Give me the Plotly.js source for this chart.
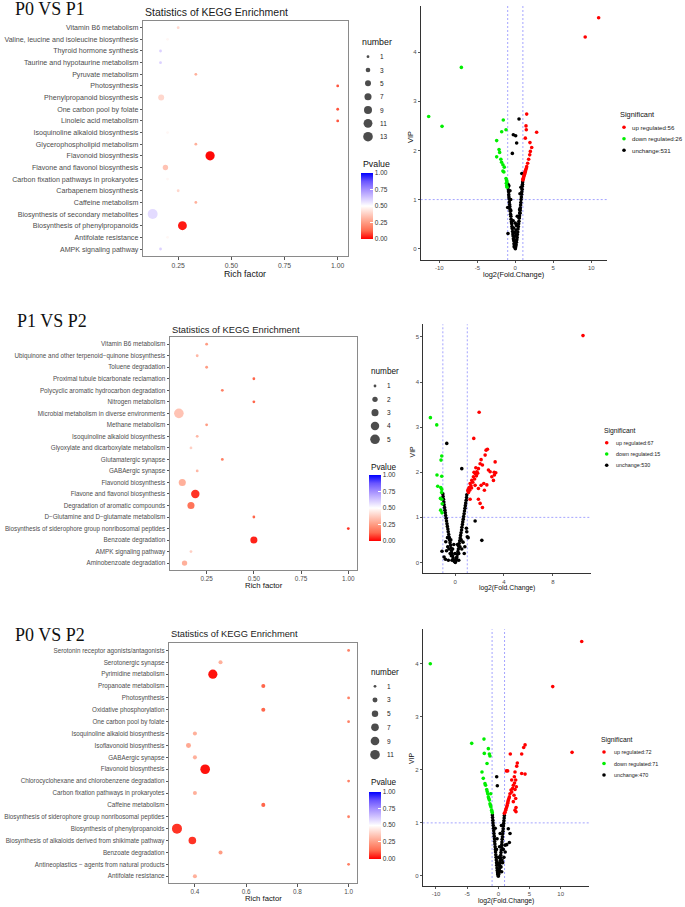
<!DOCTYPE html>
<html><head><meta charset="utf-8">
<script src="https://cdn.plot.ly/plotly-3.0.1.min.js"></script>
<style>html,body{margin:0;padding:0;background:#fff}#chart{width:685px;height:907px}</style>
</head><body><div id="chart"></div>
<script>
// ================= DATA =================
// --- P0 VS P1 KEGG enrichment ---
const p01Pathways = ["Vitamin B6 metabolism","Valine, leucine and isoleucine biosynthesis","Thyroid hormone synthesis","Taurine and hypotaurine metabolism","Pyruvate metabolism","Photosynthesis","Phenylpropanoid biosynthesis","One carbon pool by folate","Linoleic acid metabolism","Isoquinoline alkaloid biosynthesis","Glycerophospholipid metabolism","Flavonoid biosynthesis","Flavone and flavonol biosynthesis","Carbon fixation pathways in prokaryotes","Carbapenem biosynthesis","Caffeine metabolism","Biosynthesis of secondary metabolites","Biosynthesis of phenylpropanoids","Antifolate resistance","AMPK signaling pathway"];
const p01Rich = [0.25,0.2,0.167,0.167,0.333,1,0.17,1,1,0.2,0.333,0.4,0.19,0.2,0.25,0.333,0.13,0.27,0.2,0.167];
const p01Number = [1,1,1,1,1,1,5,1,1,1,1,12,4,1,1,1,14,11,1,1];
const p01Pvalue = [0.40,0.48,0.60,0.60,0.30,0.10,0.40,0.10,0.10,0.48,0.30,0.01,0.35,0.48,0.40,0.30,0.58,0.03,0.48,0.60];
const p01SizeBreaks = [1,3,5,7,9,11,13];

// --- P1 VS P2 KEGG enrichment ---
const p12Pathways = ["Vitamin B6 metabolism","Ubiquinone and other terpenoid\u2212quinone biosynthesis","Toluene degradation","Proximal tubule bicarbonate reclamation","Polycyclic aromatic hydrocarbon degradation","Nitrogen metabolism","Microbial metabolism in diverse environments","Methane metabolism","Isoquinoline alkaloid biosynthesis","Glyoxylate and dicarboxylate metabolism","Glutamatergic synapse","GABAergic synapse","Flavonoid biosynthesis","Flavone and flavonol biosynthesis","Degradation of aromatic compounds","D\u2212Glutamine and D\u2212glutamate metabolism","Biosynthesis of siderophore group nonribosomal peptides","Benzoate degradation","AMPK signaling pathway","Aminobenzoate degradation"];
const p12Rich = [0.25,0.2,0.25,0.5,0.333,0.5,0.103,0.25,0.2,0.167,0.333,0.2,0.121,0.19,0.167,0.5,1,0.5,0.167,0.133];
const p12Number = [1,1,1,1,1,1,5,1,1,1,1,1,3,4,3,1,1,3,1,2];
const p12Pvalue = [0.25,0.32,0.25,0.12,0.18,0.12,0.35,0.25,0.32,0.38,0.18,0.32,0.30,0.06,0.15,0.12,0.06,0.04,0.38,0.30];
const p12SizeBreaks = [1,2,3,4,5];

// --- P0 VS P2 KEGG enrichment ---
const p02Pathways = ["Serotonin receptor agonists/antagonists","Serotonergic synapse","Pyrimidine metabolism","Propanoate metabolism","Photosynthesis","Oxidative phosphorylation","One carbon pool by folate","Isoquinoline alkaloid biosynthesis","Isoflavonoid biosynthesis","GABAergic synapse","Flavonoid biosynthesis","Chlorocyclohexane and chlorobenzene degradation","Carbon fixation pathways in prokaryotes","Caffeine metabolism","Biosynthesis of siderophore group nonribosomal peptides","Biosynthesis of phenylpropanoids","Biosynthesis of alkaloids derived from shikimate pathway","Benzoate degradation","Antineoplastics \u2212 agents from natural products","Antifolate resistance"];
const p02Rich = [1,0.5,0.47,0.667,1,0.667,1,0.4,0.375,0.4,0.44,1,0.4,0.667,1,0.33,0.39,0.5,1,0.4];
const p02Number = [1,2,10,2,1,2,1,2,3,2,11,1,2,2,1,12,7,2,1,2];
const p02Pvalue = [0.18,0.30,0.02,0.12,0.18,0.12,0.18,0.30,0.28,0.30,0.02,0.18,0.30,0.12,0.18,0.06,0.06,0.25,0.18,0.30];
const p02SizeBreaks = [1,3,5,7,9,11];

const pTickVals = [0,0.25,0.5,0.75,1];
const pTickText = ["0.00","0.25","0.50","0.75","1.00"];
const richTicks01 = [0.25,0.5,0.75,1];
const richTickText01 = ["0.25","0.50","0.75","1.00"];
const richTicks02 = [0.4,0.6,0.8,1.0];
const richTickText02 = ["0.4","0.6","0.8","1.0"];

// --- Volcano data [log2FC, VIP] ---
const p01Up = [[10.97,4.70],[9.2,4.31],[1.5,2.74],[1.41,2.50],[1.45,2.42],[2.81,2.37],[1.32,2.25],[1.93,2.16],[2.16,2.06],[1.98,1.98],[1.9,1.91],[1.76,1.82],[1.63,1.74],[1.5,1.67],[1.44,1.63],[1.37,1.60],[1.31,1.57],[1.24,1.53],[1.18,1.50],[1.1,1.46],[1.05,1.43],[1.0,1.40],[1.27,1.55],[1.21,1.51],[1.14,1.48],[1.34,1.58],[1.07,1.44],[1.02,1.41]];
const p01Down = [[-7.1,3.69],[-11.4,2.69],[-9.64,2.49],[-1.58,2.62],[-1.22,2.42],[-1.79,2.38],[-2.45,2.20],[-2.14,2.02],[-2.06,1.96],[-2.45,1.87],[-1.9,1.82],[-1.8,1.76],[-1.63,1.71],[-1.45,1.66],[-1.63,1.58],[-1.5,1.56],[-1.22,1.43],[-1.14,1.39],[-1.18,1.33],[-1.14,1.28],[-1.1,1.36],[-1.08,1.25]];
const p01Unchange = [[0.49,2.64],[-0.26,2.32],[0.05,2.30],[0.18,2.15],[-0.39,1.94],[0.86,1.53],[-1.0,0.84],[-0.96,0.31],[0.53,0.65],[0.62,0.72],
[-0.96,1.31],[-0.93,1.26],[-0.91,1.2],[-0.88,1.16],[-0.86,1.1],[-0.84,1.05],[-0.8,1.01],[-0.79,0.95],[-0.75,0.9],[-0.72,0.86],[-0.69,0.8],[-0.65,0.76],[-0.62,0.7],[-0.58,0.66],[-0.55,0.6],[-0.51,0.55],[-0.47,0.51],[-0.44,0.45],[-0.4,0.41],[-0.36,0.35],[-0.32,0.3],[-0.29,0.26],[-0.25,0.2],[-0.2,0.16],[-0.17,0.1],[-0.12,0.06],[-0.07,0.03],
[0.97,1.36],[0.95,1.31],[0.92,1.27],[0.9,1.21],[0.86,1.16],[0.83,1.11],[0.8,1.05],[0.76,1.0],[0.73,0.94],[0.7,0.89],[0.66,0.83],[0.63,0.78],[0.59,0.73],[0.55,0.67],[0.51,0.62],[0.48,0.56],[0.44,0.51],[0.4,0.45],[0.36,0.4],[0.32,0.34],[0.28,0.29],[0.24,0.23],[0.2,0.18],[0.15,0.13],[0.11,0.08],[0.06,0.04],[0.01,0.0],
[-0.2,0.42],[0.16,0.47],[-0.05,0.33],[0.1,0.28],[-0.1,0.18],[0.05,0.13],[-0.28,0.57],[0.26,0.66],[0.0,0.52],[-0.14,0.04],[-0.02,0.08],[0.08,0.38],[-0.12,0.25],[-0.6,0.78],[0.58,0.8],[-0.6,1.0],[0.62,1.12],[-0.7,1.18],[0.75,1.25],[-0.85,1.28]];
const p01SigLabels = ["up regulated:56","down regulated:26","unchange:531"];

const p12Up = [[10.47,5.03],[1.97,3.33],[1.53,2.75],[2.65,2.51],[2.54,2.49],[2.46,2.38],[2.13,2.28],[3.28,2.23],[2.05,2.19],[2.24,2.16],[1.91,2.08],[1.78,2.01],[1.64,1.97],[2.73,2.05],[2.87,2.01],[3.33,1.99],[3.22,1.94],[3.01,1.90],[3.14,1.82],[1.5,1.9],[1.37,1.82],[1.23,1.75],[1.15,1.66],[1.04,1.59],[1.64,1.71],[1.91,1.64],[2.13,1.71],[1.91,1.40],[2.05,1.31],[2.24,1.22],[1.23,1.40],[1.1,1.55],[1.3,1.7],[1.45,1.78],[1.6,1.85],[1.75,1.92],[1.85,1.98],[1.2,1.6],[1.35,1.65],[1.08,1.62],[2.6,1.72],[2.4,1.6],[1.7,2.1],[1.55,2.0],[2.35,1.75],[3.2,2.0]];
const p12Down = [[-2.02,3.21],[-1.5,3.05],[-1.09,2.36],[-1.15,2.27],[-1.48,1.94],[-1.09,1.91],[-1.42,1.69],[-1.17,1.66],[-1.09,1.62],[-1.2,1.42],[-1.09,1.40],[-1.18,1.16],[-1.07,1.10],[-1.1,1.55],[-1.05,1.3]];
const p12Unchange = [[-0.68,2.64],[0.55,2.08],[1.64,0.92],[2.19,0.49],[0.96,0.68],[1.0,0.57],[0.93,0.76],[-0.76,0.46],[-0.7,0.26],[-0.79,0.07],[-0.55,0.05],[1.07,0.55],[-1.07,0.25],
[-1.0,1.52],[-0.98,1.46],[-0.95,1.4],[-0.92,1.34],[-0.9,1.28],[-0.86,1.22],[-0.83,1.16],[-0.8,1.1],[-0.77,1.04],[-0.73,0.98],[-0.7,0.92],[-0.66,0.86],[-0.63,0.8],[-0.59,0.74],[-0.56,0.68],[-0.52,0.62],[-0.48,0.56],[-0.45,0.5],[-0.41,0.44],[-0.37,0.38],[-0.33,0.32],[-0.29,0.26],[-0.25,0.2],[-0.2,0.15],[-0.16,0.1],[-0.11,0.05],[-0.06,0.02],
[0.96,1.5],[0.94,1.44],[0.91,1.38],[0.87,1.32],[0.84,1.26],[0.81,1.2],[0.77,1.14],[0.74,1.08],[0.7,1.02],[0.67,0.96],[0.63,0.9],[0.6,0.84],[0.56,0.78],[0.53,0.72],[0.49,0.66],[0.45,0.6],[0.42,0.54],[0.38,0.48],[0.34,0.42],[0.3,0.36],[0.27,0.3],[0.23,0.24],[0.19,0.18],[0.15,0.12],[0.11,0.07],[0.07,0.03],[0.02,0.0],
[-0.5,0.3],[-0.3,0.15],[0.3,0.2],[0.4,0.35],[-0.4,0.2],[-0.2,0.3],[0.2,0.4],[0.0,0.2],[-0.1,0.4],[0.1,0.1],[-0.6,0.35],[0.55,0.3],[0.65,0.45],[-0.62,0.55],[0.5,0.5],[-0.25,0.05],[0.3,0.05],[0.8,0.35],[0.75,0.2],[-0.9,0.12],[-0.35,0.5]];
const p12SigLabels = ["up regulated:67","down regulated:15","unchange:530"];

const p02Up = [[13.38,4.42],[8.73,3.57],[11.83,2.33],[4.29,2.47],[4.07,2.42],[3.75,2.30],[1.93,2.30],[3.05,2.13],[2.95,2.07],[1.29,1.98],[1.5,1.98],[2.68,1.96],[3.75,1.93],[4.29,1.92],[2.57,1.87],[2.15,1.81],[2.79,1.81],[2.41,1.71],[2.89,1.68],[2.68,1.63],[2.15,1.58],[2.52,1.52],[2.79,1.46],[2.41,1.40],[2.84,1.29],[2.68,1.24],[2.84,1.21],[0.97,1.18],[1.18,1.24],[1.34,1.30],[1.5,1.37],[1.61,1.43],[1.77,1.49],[1.87,1.55],[2.04,1.62],[1.08,1.2],[1.26,1.27],[1.42,1.33],[1.55,1.4],[1.7,1.46],[2.3,1.65],[2.6,1.75]];
const p02Down = [[-10.91,4.0],[-4.27,2.50],[-2.30,2.58],[-1.6,2.40],[-2.25,2.31],[-1.44,2.30],[-1.34,2.26],[-1.81,2.12],[-2.62,1.96],[-2.41,1.84],[-2.14,1.74],[-2.04,1.71],[-1.86,1.63],[-1.78,1.59],[-1.7,1.55],[-1.6,1.49],[-1.52,1.46],[-1.44,1.43],[-1.34,1.36],[-1.26,1.33],[-1.18,1.30],[-1.07,1.24],[-1.02,1.21],[-0.96,1.19],[-1.22,1.55]];
const p02Unchange = [[-0.26,1.87],[-0.16,1.70],[1.6,0.89],[1.88,0.80],[1.77,0.63],[1.35,0.59],[1.08,0.58],[0.43,0.17],[0.54,0.08],[0.9,0.35],[1.1,0.45],[0.7,0.25],
[-0.95,1.15],[-0.92,1.1],[-0.88,1.05],[-0.85,1.0],[-0.81,0.95],[-0.77,0.9],[-0.74,0.85],[-0.7,0.8],[-0.66,0.75],[-0.62,0.7],[-0.59,0.65],[-0.55,0.6],[-0.51,0.55],[-0.47,0.5],[-0.44,0.45],[-0.4,0.4],[-0.36,0.35],[-0.32,0.3],[-0.28,0.25],[-0.25,0.2],[-0.21,0.15],[-0.17,0.1],[-0.12,0.06],[-0.07,0.03],[-0.02,0.0],
[0.97,1.14],[0.94,1.09],[0.9,1.04],[0.86,0.99],[0.82,0.94],[0.78,0.89],[0.74,0.84],[0.7,0.79],[0.66,0.74],[0.62,0.69],[0.58,0.64],[0.55,0.59],[0.51,0.54],[0.47,0.49],[0.43,0.44],[0.39,0.39],[0.35,0.34],[0.31,0.29],[0.27,0.24],[0.23,0.19],[0.19,0.14],[0.15,0.1],[0.1,0.06],[0.05,0.03],[0.02,0.0],
[-0.3,0.5],[0.2,0.55],[0.0,0.35],[-0.15,0.25],[0.1,0.2],[0.0,0.1],[-0.2,0.7],[0.3,0.8],[0.6,0.3],[0.8,0.5],[-0.5,0.9],[0.5,0.95]];
const p02SigLabels = ["up regulated:72","down regulated:71","unchange:470"];

const fcThreshold = 1;
const vipThreshold = 1;

// ================= STYLE / LAYOUT HELPERS =================
const W = 685, H = 907;
const fx = v => v / W;
const fy = v => 1 - v / H;
const SANS = "Liberation Sans, Arial, sans-serif";
const SERIF = "Liberation Serif, Times New Roman, serif";
const pColorscale = [[0,'#FF0000'],[0.125,'#FF6A4E'],[0.25,'#FF9C83'],[0.375,'#FFCDC0'],[0.5,'#FFFFFF'],[0.625,'#D3C6FF'],[0.75,'#A48FFF'],[0.875,'#6A55FF'],[1,'#0000FF']];
const sigColors = ['#FF0000','#00EE00','#000000'];

function sizeScale(nums, breaks){
  const dMin = 2.8, dMax = 9.6, ref = breaks[breaks.length-1];
  return nums.map(n => Math.sqrt(dMin*dMin + (n-1)/(ref-1)*(dMax*dMax - dMin*dMin)));
}

const traces = [];
const layout = {
  width: W, height: H, margin:{l:0,r:0,t:0,b:0},
  paper_bgcolor:'#fff', plot_bgcolor:'rgba(0,0,0,0)',
  showlegend:false, font:{family:SANS, size:7, color:'#4d4d4d'},
  annotations:[], shapes:[]
};
function ann(text, x, y, o){
  o = o || {};
  layout.annotations.push(Object.assign({
    text:text, x:fx(x), y:fy(y), xref:'paper', yref:'paper', showarrow:false,
    xanchor:'left', yanchor:'middle', font:{family:SANS, size:9, color:'#000'}
  }, o));
}

// bubble panel
function bubble(cfg){
  const xa = 'xaxis'+cfg.id, ya = 'yaxis'+cfg.id;
  const xr = 'x'+cfg.id, yr = 'y'+cfg.id;
  const n = cfg.cats.length;
  layout[xa] = {domain:[fx(cfg.box[0]),fx(cfg.box[1])], range:cfg.xrange, anchor:yr,
    tickvals:cfg.ticks, ticktext:cfg.tickText, showline:true, mirror:true, linecolor:'#8a8a8a', linewidth:1,
    ticks:'outside', ticklen:2.5, tickcolor:'#555', tickwidth:1, tickfont:{size:cfg.tickFont,color:'#4d4d4d'},
    showgrid:false, zeroline:false, fixedrange:true};
  layout[ya] = {domain:[fy(cfg.box[3]),fy(cfg.box[2])], type:'category', categoryorder:'array',
    categoryarray:cfg.cats, range:[n-0.4,-0.6], anchor:xr,
    showline:true, mirror:true, linecolor:'#8a8a8a', linewidth:1,
    ticks:'outside', ticklen:2.5, tickcolor:'#555', tickwidth:1, tickfont:{size:cfg.catFont,color:'#4d4d4d'},
    showgrid:false, zeroline:false, fixedrange:true};
  traces.push({type:'scatter', mode:'markers', x:cfg.rich, y:cfg.cats, xaxis:xr, yaxis:yr, hoverinfo:'skip',
    marker:{size:sizeScale(cfg.num, cfg.breaks), color:cfg.pval, colorscale:pColorscale, cmin:0, cmax:1,
      opacity:1, line:{width:0}, showscale:true,
      colorbar:{x:fx(cfg.cb[0]), xanchor:'left', y:fy(cfg.cb[1]), yanchor:'top', len:cfg.cb[2], lenmode:'pixels',
        thickness:12, thicknessmode:'pixels', xpad:0, ypad:0, outlinewidth:0,
        tickvals:pTickVals, ticktext:pTickText, ticks:'inside', ticklen:3, tickcolor:'#fff',
        tickfont:{size:6.5, color:'#333'}}}});
  // size legend
  const lx = 'xaxis'+cfg.lid, ly='yaxis'+cfg.lid;
  const nb = cfg.breaks.length, s = (cfg.leg[2]-cfg.leg[1])/(nb-1);
  layout[lx] = {domain:[fx(cfg.leg[0]-2),fx(cfg.leg[0]+2)], range:[0,1], visible:false, anchor:'y'+cfg.lid, fixedrange:true};
  layout[ly] = {domain:[fy(cfg.leg[2]+s/2),fy(cfg.leg[1]-s/2)], range:[nb-0.5,-0.5], visible:false, anchor:'x'+cfg.lid, fixedrange:true};
  traces.push({type:'scatter', mode:'markers', x:cfg.breaks.map(()=>0.5), y:cfg.breaks.map((b,i)=>i),
    xaxis:'x'+cfg.lid, yaxis:'y'+cfg.lid, hoverinfo:'skip', cliponaxis:false,
    marker:{size:sizeScale(cfg.breaks, cfg.breaks), color:'#000', line:{width:0}}});
  cfg.breaks.forEach((b,i)=>{
    layout.annotations.push({text:String(b), x:fx(cfg.leg[3]), y:i, xref:'paper', yref:'y'+cfg.lid,
      showarrow:false, xanchor:'left', yanchor:'middle', font:{family:SANS,size:6.5,color:'#222'}});
  });
  ann(cfg.label, cfg.labelPos[0], cfg.labelPos[1], {font:{family:SERIF, size:18, color:'#111'}});
  ann('Statistics of KEGG Enrichment', cfg.titlePos[0], cfg.titlePos[1], {font:{family:SANS, size:cfg.titleFont, color:'#1a1a1a'}});
  ann('Rich factor', cfg.xTitle[0], cfg.xTitle[1], {xanchor:'center', font:{family:SANS, size:cfg.xTitle[2], color:'#111'}});
  ann('number', cfg.numTitle[0], cfg.numTitle[1], {font:{family:SANS, size:cfg.legFont, color:'#111'}});
  ann('Pvalue', cfg.pTitle[0], cfg.pTitle[1], {font:{family:SANS, size:cfg.legFont, color:'#111'}});
}

function volcano(cfg){
  const id = cfg.id, xr='x'+id, yr='y'+id;
  layout['xaxis'+id] = {domain:[fx(cfg.box[0]),fx(cfg.box[1])], range:cfg.xrange, anchor:yr,
    tickvals:cfg.xticks, ticktext:cfg.xticks.map(String), showline:true, mirror:false, linecolor:'#333', linewidth:1,
    ticks:'outside', ticklen:2, tickcolor:'#555', tickfont:{size:6,color:'#4d4d4d'}, showgrid:false, zeroline:false, fixedrange:true};
  layout['yaxis'+id] = {domain:[fy(cfg.box[3]),fy(cfg.box[2])], range:cfg.yrange, anchor:xr,
    tickvals:cfg.yticks, ticktext:cfg.yticks.map(String), showline:true, mirror:false, linecolor:'#333', linewidth:1,
    ticks:'outside', ticklen:2, tickcolor:'#555', tickfont:{size:6,color:'#4d4d4d'}, showgrid:false, zeroline:false, fixedrange:true};
  const dash = {color:'#a4a4ff', width:1, dash:'2px,2px'};
  [-fcThreshold, fcThreshold].forEach(v => layout.shapes.push({type:'line', layer:'below', xref:xr, yref:yr+' domain', x0:v, x1:v, y0:0, y1:1, line:dash}));
  layout.shapes.push({type:'line', layer:'below', xref:xr+' domain', yref:yr, x0:0, x1:1, y0:vipThreshold, y1:vipThreshold, line:dash});
  [[cfg.unch,2],[cfg.up,0],[cfg.down,1]].forEach(([pts,ci]) => {
    traces.push({type:'scatter', mode:'markers', x:pts.map(p=>p[0]), y:pts.map(p=>p[1]), xaxis:xr, yaxis:yr,
      hoverinfo:'skip', marker:{size:3.6, color:sigColors[ci], line:{width:0}}});
  });
  // significant legend
  const lid = cfg.lid, s = (cfg.leg[2]-cfg.leg[1])/2;
  layout['xaxis'+lid] = {domain:[fx(cfg.leg[0]-2),fx(cfg.leg[0]+2)], range:[0,1], visible:false, anchor:'y'+lid, fixedrange:true};
  layout['yaxis'+lid] = {domain:[fy(cfg.leg[2]+s/2),fy(cfg.leg[1]-s/2)], range:[2.5,-0.5], visible:false, anchor:'x'+lid, fixedrange:true};
  traces.push({type:'scatter', mode:'markers', x:[0.5,0.5,0.5], y:[0,1,2], xaxis:'x'+lid, yaxis:'y'+lid, hoverinfo:'skip', cliponaxis:false,
    marker:{size:3.6, color:sigColors, line:{width:0}}});
  cfg.labels.forEach((t,i)=>{
    layout.annotations.push({text:t, x:fx(cfg.leg[3]), y:i, xref:'paper', yref:'y'+lid, showarrow:false,
      xanchor:'left', yanchor:'middle', font:{family:SANS,size:cfg.legFont,color:'#222'}});
  });
  ann('Significant', cfg.sigTitle[0], cfg.sigTitle[1], {font:{family:SANS, size:cfg.titleFont, color:'#111'}});
  ann('VIP', cfg.vipPos[0], cfg.vipPos[1], {xanchor:'center', textangle:-90, font:{family:SANS, size:cfg.titleFont, color:'#111'}});
  ann('log2(Fold.Change)', cfg.xTitle[0], cfg.xTitle[1], {xanchor:'center', font:{family:SANS, size:cfg.titleFont, color:'#111'}});
}

// ================= PANELS =================
bubble({id:'', lid:7, cats:p01Pathways, rich:p01Rich, num:p01Number, pval:p01Pvalue, breaks:p01SizeBreaks,
  box:[143.3,347.7,20.7,256], xrange:[0.086,1.047], ticks:richTicks01, tickText:richTickText01, catFont:7.1, tickFont:6.8,
  cb:[361,173,66], leg:[368,56.7,136.7,378], label:'P0 VS P1', labelPos:[13,9], titlePos:[143,12], titleFont:10.5,
  xTitle:[245.5,274,8.8], numTitle:[360,42], pTitle:[361,164], legFont:8.8});
bubble({id:2, lid:8, cats:p12Pathways, rich:p12Rich, num:p12Number, pval:p12Pvalue, breaks:p12SizeBreaks,
  box:[170,357,337.3,570], xrange:[0.056,1.046], ticks:richTicks01, tickText:richTickText01, catFont:6.3, tickFont:6.4,
  cb:[369,475,66], leg:[375,386,439.3,385], label:'P1 VS P2', labelPos:[15,321], titlePos:[170,329], titleFont:9.4,
  xTitle:[263.7,585.5,7.8], numTitle:[369,371.7], pTitle:[369,467.3], legFont:8.2});
bubble({id:3, lid:9, cats:p02Pathways, rich:p02Rich, num:p02Number, pval:p02Pvalue, breaks:p02SizeBreaks,
  box:[169.3,357.3,643.3,883.3], xrange:[0.3,1.034], ticks:richTicks02, tickText:richTickText02, catFont:6.3, tickFont:6.4,
  cb:[369.3,791.7,66.6], leg:[375,686.3,754.7,385], label:'P0 VS P2', labelPos:[13,635], titlePos:[169,634.3], titleFont:9.3,
  xTitle:[263,898.5,7.7], numTitle:[369,672.3], pTitle:[369.3,782.7], legFont:8.2});

volcano({id:4, lid:10, up:p01Up, down:p01Down, unch:p01Unchange, labels:p01SigLabels,
  box:[420.7,607,6,260], xrange:[-12.45,12.07], yrange:[-0.23,4.94], xticks:[-10,-5,0,5,10], yticks:[0,1,2,3,4],
  leg:[624,127.3,150.3,630], sigTitle:[618,115], vipPos:[410,137], xTitle:[513.5,274.5], titleFont:7.4, legFont:6.1});
volcano({id:5, lid:11, up:p12Up, down:p12Down, unch:p12Unchange, labels:p12SigLabels,
  box:[423.3,590.7,324.3,573.3], xrange:[-2.6,11.1], yrange:[-0.24,5.28], xticks:[0,4,8], yticks:[0,1,2,3,4,5],
  leg:[606.7,442.7,465.3,614.3], sigTitle:[601.7,431], vipPos:[412.7,451.7], xTitle:[506.5,588], titleFont:6.8, legFont:5.4});
volcano({id:6, lid:12, up:p02Up, down:p02Down, unch:p02Unchange, labels:p02SigLabels,
  box:[422.7,588.7,629.3,886], xrange:[-12.13,14.5], yrange:[-0.19,4.65], xticks:[-10,-5,0,5,10], yticks:[0,1,2,3,4],
  leg:[604,752,775,611.7], sigTitle:[599.3,739.7], vipPos:[411.7,758.3], xTitle:[506,901], titleFont:6.8, legFont:5.4});

Plotly.newPlot('chart', traces, layout, {displayModeBar:false, staticPlot:true});
</script></body></html>
